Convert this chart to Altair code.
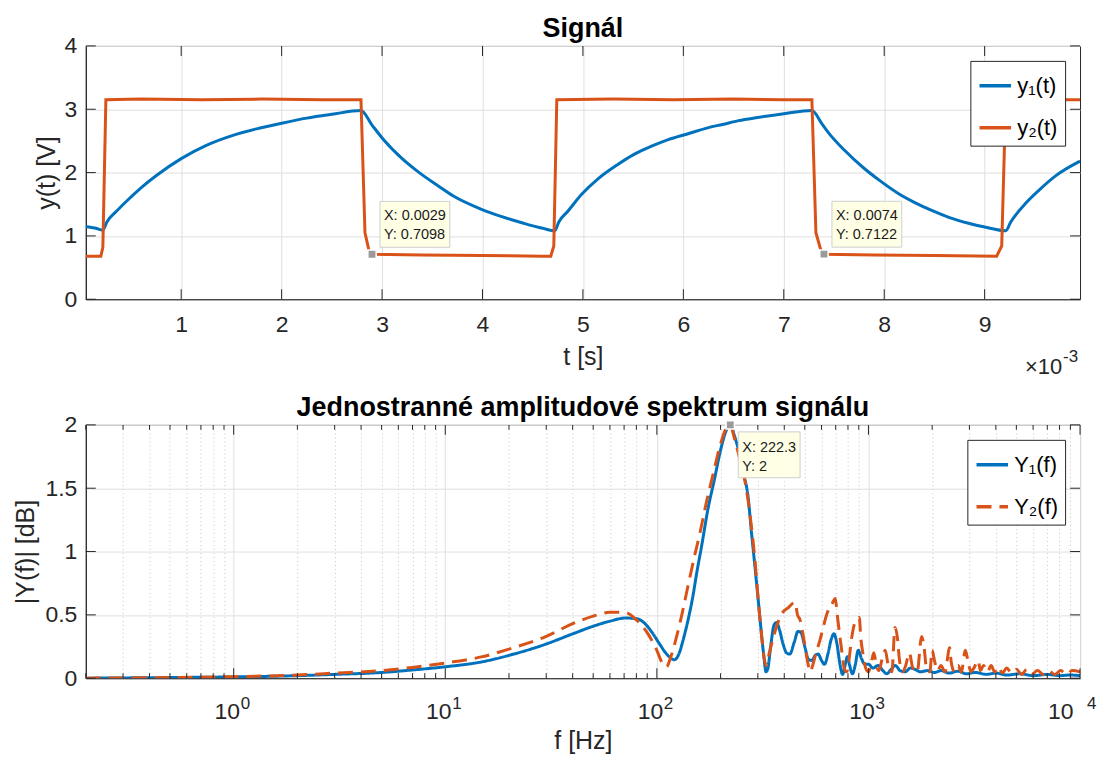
import altair as alt
import pandas as pd

BLUE = "#0072BD"
ORANGE = "#D95319"
AX = "#262626"
FONT = "Liberation Sans"

# ---------------- top panel: signals (t in ms, axis shown x10^-3 s) ----------------
t_y1 = [0.05, 0.15, 0.22, 0.26, 0.35, 0.45, 0.60, 0.75, 1.00, 1.25,
        1.50, 1.75, 2.00, 2.25, 2.50, 2.79, 2.90, 3.02, 3.20, 3.37,
        3.55, 3.71, 3.99, 4.20, 4.41, 4.60, 4.72, 4.76, 4.85, 4.99,
        5.15, 5.34, 5.50, 5.69, 5.85, 6.04, 6.25, 6.39, 6.55, 6.74,
        7.00, 7.28, 7.38, 7.44, 7.60, 7.79, 7.95, 8.14, 8.30, 8.49,
        8.65, 8.84, 9.00, 9.21, 9.26, 9.40, 9.54, 9.70, 9.95]
v_y1 = [1.15, 1.12, 1.09, 1.22, 1.38, 1.54, 1.76, 1.95, 2.22, 2.43,
        2.58, 2.69, 2.78, 2.86, 2.92, 2.98, 2.75, 2.51, 2.22, 2.00,
        1.80, 1.63, 1.42, 1.30, 1.20, 1.12, 1.08, 1.22, 1.39, 1.66,
        1.90, 2.12, 2.28, 2.42, 2.52, 2.61, 2.71, 2.76, 2.82, 2.87,
        2.93, 2.98, 2.77, 2.64, 2.36, 2.08, 1.88, 1.67, 1.53, 1.39,
        1.29, 1.20, 1.14, 1.08, 1.22, 1.50, 1.72, 1.94, 2.18]

t_y2 = [0.05, 0.20, 0.22, 0.25, 0.60, 1.20, 1.80, 2.40, 2.79, 2.83,
        2.87, 2.90, 3.40, 4.00, 4.60, 4.68, 4.71, 4.74, 5.30, 5.90,
        6.50, 7.00, 7.28, 7.32, 7.37, 7.40, 7.90, 8.50, 9.12, 9.17,
        9.21, 9.60, 9.95]
v_y2 = [0.68, 0.68, 0.82, 3.15, 3.16, 3.15, 3.16, 3.15, 3.15, 1.05,
        0.77, 0.71, 0.70, 0.69, 0.68, 0.68, 0.84, 3.15, 3.16, 3.15,
        3.16, 3.15, 3.15, 1.05, 0.77, 0.71, 0.70, 0.69, 0.68, 0.84,
        3.15, 3.15, 3.15]

tip_t = [2.9, 7.4]
tip_v = [0.7098, 0.7122]
tip_text = ["X: 0.0029\nY: 0.7098", "X: 0.0074\nY: 0.7122"]

top_xticks = [1, 2, 3, 4, 5, 6, 7, 8, 9]
top_yticks = [0, 1, 2, 3, 4]

# ---------------- bottom panel: one-sided amplitude spectrum ----------------
Y1_pts = [
    (0.2, 0.0), (0.5, 0.005), (1, 0.01), (2, 0.02), (3, 0.03), (5, 0.045), (7, 0.065),
    (10, 0.09), (15, 0.13), (20, 0.18), (30, 0.27), (40, 0.35), (50, 0.41), (60, 0.45),
    (71, 0.475), (80, 0.47), (88, 0.43), (95, 0.36), (103, 0.27), (110, 0.2), (116, 0.16),
    (121, 0.145), (127, 0.19), (133, 0.3), (140, 0.45), (147, 0.62), (155, 0.85),
    (163, 1.05), (175, 1.35), (186, 1.55), (200, 1.8), (212, 1.95), (222.3, 2.0),
    (232, 1.92), (245, 1.78), (258, 1.6), (269, 1.45), (280, 1.15), (290, 0.9),
    (300, 0.65), (310, 0.4), (320, 0.18), (328, 0.05), (335, 0.08), (345, 0.25),
    (358, 0.42), (368, 0.44), (380, 0.38), (395, 0.27), (410, 0.2), (425, 0.19),
    (445, 0.28), (465, 0.37), (480, 0.36), (500, 0.25), (520, 0.15), (540, 0.14),
    (560, 0.18), (578, 0.19), (600, 0.14), (620, 0.11), (645, 0.2), (665, 0.3),
    (687, 0.35), (710, 0.27), (735, 0.1), (755, 0.03), (775, 0.1), (795, 0.17),
    (815, 0.1), (840, 0.035), (865, 0.1), (895, 0.22), (925, 0.16), (960, 0.11),
    (1000, 0.11), (1050, 0.08), (1110, 0.1), (1170, 0.06), (1220, 0.035), (1280, 0.07),
    (1340, 0.1), (1410, 0.06), (1490, 0.05), (1580, 0.08), (1660, 0.07), (1760, 0.05),
    (1900, 0.06), (2050, 0.045), (2200, 0.06), (2400, 0.04), (2650, 0.055), (2900, 0.035),
    (3200, 0.045), (3600, 0.03), (4000, 0.04), (4500, 0.025), (5200, 0.035), (6000, 0.02),
    (7000, 0.03), (8000, 0.02), (9000, 0.025), (10000, 0.02),
]
Y2_pts = [
    (0.2, 0.0), (0.5, 0.005), (1, 0.012), (2, 0.025), (3, 0.04), (5, 0.06), (7, 0.085),
    (10, 0.12), (15, 0.17), (20, 0.23), (30, 0.33), (40, 0.43), (50, 0.49), (60, 0.52),
    (70, 0.52), (80, 0.46), (90, 0.36), (100, 0.22), (106, 0.12), (111, 0.09), (117, 0.18),
    (124, 0.33), (132, 0.52), (140, 0.72), (150, 0.95), (160, 1.15), (172, 1.4),
    (185, 1.62), (200, 1.85), (212, 1.97), (222.3, 2.0), (232, 1.9), (245, 1.75),
    (258, 1.6), (270, 1.4), (282, 1.15), (292, 0.9), (302, 0.6), (312, 0.35), (322, 0.15),
    (330, 0.1), (340, 0.2), (355, 0.32), (370, 0.42), (390, 0.51), (420, 0.56), (450, 0.6),
    (462, 0.5), (475, 0.46), (490, 0.35), (505, 0.22), (520, 0.1), (530, 0.05), (545, 0.1),
    (565, 0.2), (590, 0.3), (615, 0.42), (640, 0.52), (670, 0.58), (697, 0.63), (712, 0.5),
    (730, 0.35), (750, 0.2), (770, 0.07), (790, 0.05), (810, 0.15), (830, 0.3), (850, 0.4),
    (880, 0.46), (905, 0.48), (920, 0.32), (945, 0.18), (970, 0.08), (1000, 0.05),
    (1030, 0.12), (1060, 0.2), (1090, 0.1), (1120, 0.06), (1160, 0.15), (1200, 0.22),
    (1240, 0.1), (1290, 0.05), (1335, 0.4), (1370, 0.32), (1400, 0.15), (1450, 0.05),
    (1500, 0.1), (1560, 0.2), (1620, 0.08), (1700, 0.05), (1783, 0.33), (1830, 0.25),
    (1880, 0.08), (1950, 0.05), (2000, 0.22), (2050, 0.14), (2120, 0.06), (2200, 0.1),
    (2300, 0.05), (2420, 0.24), (2460, 0.13), (2550, 0.05), (2650, 0.1), (2750, 0.05),
    (2870, 0.22), (2950, 0.14), (3050, 0.05), (3150, 0.08), (3300, 0.14), (3380, 0.06),
    (3500, 0.1), (3650, 0.05), (3800, 0.1), (3950, 0.05), (4100, 0.09), (4300, 0.04),
    (4500, 0.08), (4750, 0.04), (5000, 0.07), (5300, 0.03), (5600, 0.07), (5900, 0.03),
    (6300, 0.06), (6700, 0.03), (7100, 0.06), (7600, 0.03), (8100, 0.06), (8600, 0.03),
    (9200, 0.06), (10000, 0.05),
]
peak_f = [222.3]
peak_a = [2.0]
peak_text = ["X: 222.3\nY: 2"]

decades = [1, 10, 100, 1000, 10000]
decade_exp = ["0", "1", "2", "3", "4"]
minor = [0.2, 0.3, 0.4, 0.5, 0.6, 0.7, 0.8, 0.9,
         2, 3, 4, 5, 6, 7, 8, 9,
         20, 30, 40, 50, 60, 70, 80, 90,
         200, 300, 400, 500, 600, 700, 800, 900,
         2000, 3000, 4000, 5000, 6000, 7000, 8000, 9000]
bot_yticks = [0, 0.5, 1, 1.5, 2]

W, H = 997, 254
LBL = 23      # tick label size
TTL = 25      # axis title size
TIP = 14.5    # datatip text size
TICK = 10     # inward tick length


def inward_ticks(values, field, enc_x=None, enc_y=None, size=TICK):
    """MATLAB-like inward ticks on both sides of the box."""
    df = pd.DataFrame({field: values})
    layers = []
    if enc_x is not None:
        for yy in (H - size / 2, size / 2):
            layers.append(alt.Chart(df).mark_tick(
                orient="vertical", size=size, thickness=1, color=AX, opacity=1
            ).encode(x=enc_x, y=alt.value(yy)))
    if enc_y is not None:
        for xx in (size / 2, W - size / 2):
            layers.append(alt.Chart(df).mark_tick(
                orient="horizontal", size=size, thickness=1, color=AX, opacity=1
            ).encode(y=enc_y, x=alt.value(xx)))
    return layers


# ---------------- top chart ----------------
S1 = ["y₁(t)", "y₂(t)"]
df_y1 = pd.DataFrame({"t": t_y1, "v": v_y1, "s": S1[0]})
df_y2 = pd.DataFrame({"t": t_y2, "v": v_y2, "s": S1[1]})
tips = pd.DataFrame({"t": tip_t, "v": tip_v, "txt": tip_text})

xs_top = alt.Scale(domain=[0.05, 9.95], nice=False, zero=False)
ys_top = alt.Scale(domain=[0, 4], nice=False)
cs_top = alt.Scale(domain=S1, range=[BLUE, ORANGE])
leg1 = alt.Legend(title=None, orient="top-right", offset=15,
                  strokeColor=AX, fillColor="white", padding=7,
                  labelFontSize=22, labelFont=FONT, labelColor="black",
                  symbolType="stroke", symbolStrokeWidth=3.5,
                  symbolSize=1000, rowPadding=13, labelOffset=4)

x_top = alt.X("t:Q", scale=xs_top,
              axis=alt.Axis(values=top_xticks, title="t [s]", ticks=False,
                            labelPadding=14, titlePadding=8, grid=True, format="d"))
y_top = alt.Y("v:Q", scale=ys_top,
              axis=alt.Axis(values=top_yticks, title="y(t) [V]", ticks=False,
                            labelPadding=9, titlePadding=5, grid=True, format="d"))

line_y1 = alt.Chart(df_y1).mark_line(strokeWidth=3, clip=True, interpolate="monotone").encode(
    x=x_top, y=y_top, color=alt.Color("s:N", scale=cs_top, legend=leg1))
line_y2 = alt.Chart(df_y2).mark_line(strokeWidth=3, clip=True).encode(
    x=x_top, y=y_top, color=alt.Color("s:N", scale=cs_top, legend=leg1))

tip_box = alt.Chart(tips).mark_rect(
    fill="#ffffe6", stroke="#cfcfcf", strokeWidth=1,
    xOffset=8, x2Offset=78, yOffset=-53, y2Offset=-7,
).encode(x="t:Q", x2="t:Q", y="v:Q", y2="v:Q")

tip_txt = alt.Chart(tips).mark_text(
    align="left", baseline="middle", dx=12, dy=-38, lineBreak="\n", lineHeight=19,
    fontSize=TIP, font=FONT, color="#1a1a1a",
).encode(x="t:Q", y="v:Q", text="txt:N")

tip_mark = alt.Chart(tips).mark_square(
    size=70, color="#9a9a9a", opacity=1, stroke="white", strokeWidth=1.5
).encode(x="t:Q", y="v:Q")

exp_df = pd.DataFrame({"base": ["×10"], "sup": ["-3"]})
exp_base = alt.Chart(exp_df).mark_text(
    align="right", baseline="alphabetic", fontSize=22, font=FONT, color=AX
).encode(x=alt.value(W - 18), y=alt.value(H + 75), text="base:N")
exp_sup = alt.Chart(exp_df).mark_text(
    align="left", baseline="alphabetic", fontSize=17, font=FONT, color=AX
).encode(x=alt.value(W - 17), y=alt.value(H + 63), text="sup:N")

top_layers = [line_y1, line_y2]
top_layers += inward_ticks(top_xticks, "t", enc_x=x_top)
top_layers += inward_ticks(top_yticks, "v", enc_y=y_top)
top_layers += [tip_box, tip_txt, tip_mark, exp_base, exp_sup]
top = alt.layer(*top_layers).properties(width=W, height=H, title="Signál")

# ---------------- bottom chart ----------------
S2 = ["Y₁(f)", "Y₂(f)"]
spec = pd.DataFrame({
    "f": [p[0] for p in Y1_pts] + [p[0] for p in Y2_pts],
    "a": [p[1] for p in Y1_pts] + [p[1] for p in Y2_pts],
    "s": [S2[0]] * len(Y1_pts) + [S2[1]] * len(Y2_pts),
})
peak = pd.DataFrame({"f": peak_f, "a": peak_a, "txt": peak_text})
exps = pd.DataFrame({"f": decades, "e": decade_exp})

xs_bot = alt.Scale(type="log", domain=[0.2, 10000], nice=False)
ys_bot = alt.Scale(domain=[0, 2], nice=False)

major_test = "indexof([1,10,100,1000,10000], datum.value) >= 0"
leg2 = alt.Legend(title=None, orient="top-right", offset=15,
                  strokeColor=AX, fillColor="white", padding=7,
                  labelFontSize=22, labelFont=FONT, labelColor="black",
                  symbolType="stroke", symbolStrokeWidth=3.5,
                  symbolSize=1000, rowPadding=13, labelOffset=4)

x_bot = alt.X("f:Q", scale=xs_bot,
              axis=alt.Axis(
                  values=minor + decades, title="f [Hz]", ticks=False,
                  labelPadding=22, titlePadding=6, grid=True, labelOffset=-7,
                  labelExpr=major_test + " ? '10' : ''",
                  gridDash={"condition": {"test": major_test, "value": []}, "value": [1, 3]},
                  gridColor={"condition": {"test": major_test, "value": "#dfdfdf"},
                             "value": "#c4c4c4"},
              ))
y_bot = alt.Y("a:Q", scale=ys_bot,
              axis=alt.Axis(values=bot_yticks, title="|Y(f)| [dB]", ticks=False,
                            labelPadding=9, titlePadding=6, grid=True, format="~g"))

lines_bot = alt.Chart(spec).mark_line(strokeWidth=3, clip=True, interpolate="monotone").encode(
    x=x_bot, y=y_bot,
    color=alt.Color("s:N", scale=alt.Scale(domain=S2, range=[BLUE, ORANGE]), legend=leg2),
    strokeDash=alt.StrokeDash("s:N", scale=alt.Scale(domain=S2, range=[[1, 0], [15, 8]]),
                              legend=leg2),
)

exp_txt = alt.Chart(exps).mark_text(
    align="left", baseline="alphabetic", fontSize=17, font=FONT, color=AX, dx=7
).encode(x=x_bot, y=alt.value(H + 31), text="e:N")

peak_box = alt.Chart(peak).mark_rect(
    fill="#ffffe6", stroke="#cfcfcf", strokeWidth=1,
    xOffset=8, x2Offset=70, yOffset=7, y2Offset=53,
).encode(x="f:Q", x2="f:Q", y="a:Q", y2="a:Q")

peak_txt = alt.Chart(peak).mark_text(
    align="left", baseline="middle", dx=12, dy=23, lineBreak="\n", lineHeight=19,
    fontSize=TIP, font=FONT, color="#1a1a1a",
).encode(x="f:Q", y="a:Q", text="txt:N")

peak_mark = alt.Chart(peak).mark_square(
    size=70, color="#9a9a9a", opacity=1, stroke="white", strokeWidth=1.5
).encode(x="f:Q", y="a:Q")

bot_layers = [lines_bot]
bot_layers += inward_ticks(decades, "f", enc_x=x_bot)
bot_layers += inward_ticks(minor, "f", enc_x=x_bot, size=5)
bot_layers += inward_ticks(bot_yticks, "a", enc_y=y_bot)
bot_layers += [exp_txt, peak_box, peak_txt, peak_mark]
bottom = alt.layer(*bot_layers).properties(
    width=W, height=H, title="Jednostranné amplitudové spektrum signálu"
)

chart = (
    alt.vconcat(top, bottom, spacing=14)
    .resolve_scale(color="independent", strokeDash="independent")
    .resolve_legend(color="independent", strokeDash="independent")
    .properties(padding={"left": 5, "top": 5, "right": 0, "bottom": 0})
    .configure_axis(labelFont=FONT, titleFont=FONT, labelFontSize=LBL, titleFontSize=TTL,
                    labelColor=AX, titleColor=AX, domainColor=AX, gridColor="#dfdfdf",
                    titleFontWeight="normal", gridOpacity=1)
    .configure_view(stroke=AX, strokeWidth=1)
    .configure_title(font=FONT, fontSize=27, fontWeight="bold", color="black",
                     anchor="middle", offset=-8)
)

chart.save("out.html", embed_options={"renderer": "svg", "actions": False})
